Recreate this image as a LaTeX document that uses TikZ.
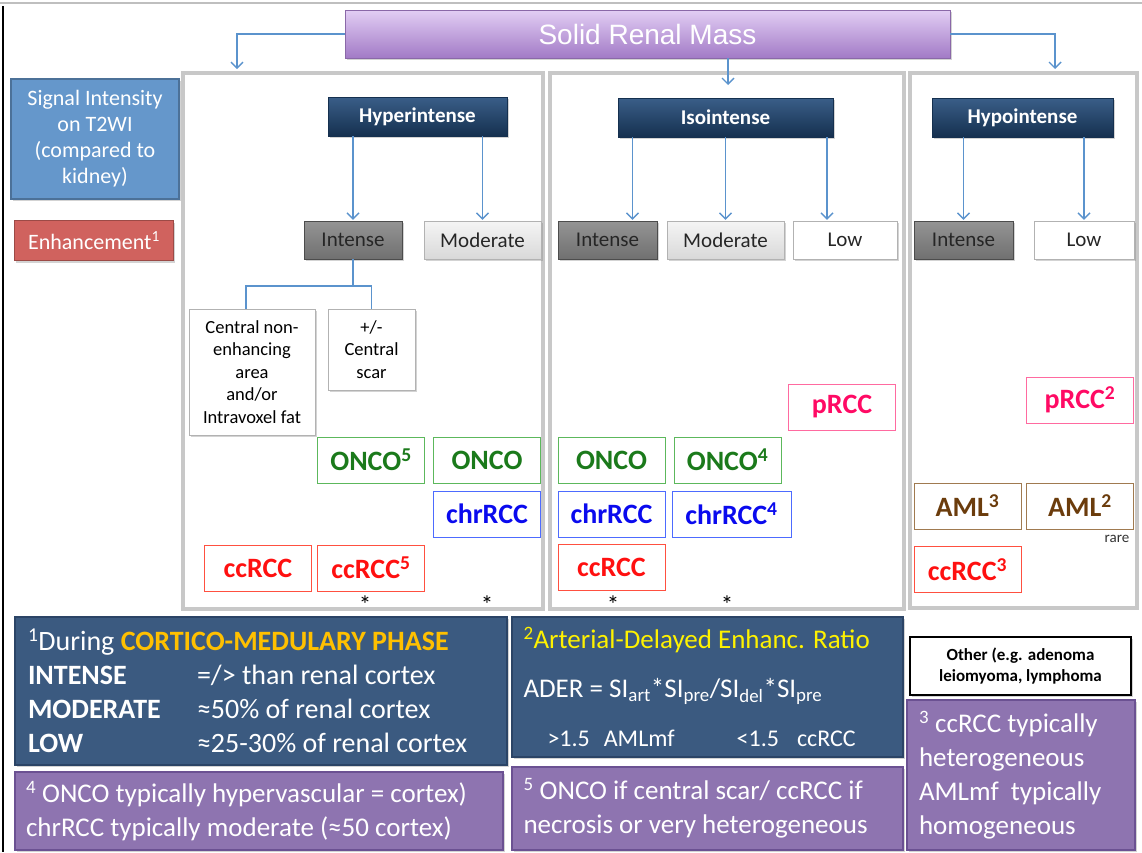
\documentclass[tikz,border=0pt]{standalone}
\usepackage{fontspec}
\setmainfont{Carlito}
\newfontfamily\titlefont{Liberation Sans}
\usepackage{tikz}
\usetikzlibrary{arrows.meta,shadows}

\definecolor{arrblue}{HTML}{5B93CD}
\definecolor{navy}{HTML}{15304F}
\definecolor{navytop}{HTML}{3A5E88}
\definecolor{panelgray}{HTML}{C8C8C8}
\definecolor{steel}{HTML}{3B5A80}
\definecolor{steelline}{HTML}{2B4466}
\definecolor{lilac}{HTML}{8E74B0}
\definecolor{lilacline}{HTML}{6B5192}
\definecolor{titletop}{HTML}{E2CEF4}
\definecolor{titlebot}{HTML}{A27AC6}
\definecolor{sigblue}{HTML}{6597CB}
\definecolor{enhred}{HTML}{D0625E}
\definecolor{oncoline}{HTML}{5CB85C}
\definecolor{oncotext}{HTML}{1B7A1B}
\definecolor{chrline}{HTML}{4D6BFF}
\definecolor{chrtext}{HTML}{0A0AEE}
\definecolor{ccline}{HTML}{FF5040}
\definecolor{cctext}{HTML}{FF1010}
\definecolor{pline}{HTML}{FF6AA0}
\definecolor{ptext}{HTML}{FF0A64}
\definecolor{amlline}{HTML}{A07A50}
\definecolor{amltext}{HTML}{6B3C0C}
\definecolor{orng}{HTML}{FFC000}

\newcommand{\fsz}[2]{\fontsize{#1}{#2}\selectfont}

\begin{document}
\begin{tikzpicture}[x=1pt,y=-1pt,>={Straight Barb[length=6pt,width=12pt]},
  sh/.style={drop shadow={opacity=.35,shadow xshift=1.5pt,shadow yshift=-2pt}},
  arr/.style={->,draw=arrblue,line width=1.4pt,shorten >=1pt},
  lnk/.style={draw=arrblue,line width=1.3pt},
  panel/.style={draw=panelgray,line width=4pt},
  hdr/.style={sh,draw=navy,top color=navytop,bottom color=navy,text=white,font=\fsz{21}{25}\bfseries,minimum height=39,inner sep=0pt},
  lvl/.style={sh,draw=gray!60,font=\fsz{21}{25},text=black!85,minimum height=38,inner sep=0pt},
  dk/.style={lvl,draw=black!70,top color=black!42,bottom color=black!56},
  lt/.style={lvl,top color=gray!8,bottom color=gray!30},
  wt/.style={lvl,fill=white},
  sub/.style={sh,draw=gray!60,fill=white,font=\fsz{18.5}{22.5},align=center,inner sep=0pt},
  res/.style={draw,line width=1pt,fill=white,minimum width=107,minimum height=46,inner sep=0pt,font=\fsz{28}{32}\bfseries},
  oncobox/.style={res,draw=oncoline,text=oncotext},
  chrbox/.style={res,draw=chrline,text=chrtext},
  ccbox/.style={res,draw=ccline,text=cctext},
  pbox/.style={res,draw=pline,text=ptext},
  amlbox/.style={res,draw=amlline,text=amltext},
  note/.style={sh,text=white,line width=1.5pt,inner sep=0pt,align=flush left,font=\fsz{27}{34}},
  ast/.style={font=\fsz{25}{25},inner sep=0pt}]
\useasboundingbox (0,0) rectangle (1142,852);

% frame
\draw[gray!50,line width=2pt] (0,3) -- (1142,3);
\draw[black,line width=2pt] (3,6) -- (3,852);

% panels
\draw[panel] (183,73) rectangle (543,609);
\draw[panel] (550,73) rectangle (904,609);
\draw[panel] (910,73) rectangle (1137,608);

% title
\node[sh,draw=titlebot!85!black,top color=titletop,bottom color=titlebot,text=white,minimum width=605,minimum height=48,inner sep=0pt,font=\titlefont\fsz{28}{32}] (title) at (647.5,34) {Solid Renal Mass};
\coordinate (lft) at (237,70);
\coordinate (rgt) at (1055,70);
\coordinate (mid) at (728,86);
\draw[arr] (title.west) -| (lft);
\draw[arr] (title.east) -| (rgt);
\draw[arr] (title.south -| mid) -- (mid);

% row labels
\node[sh,draw=sigblue!75!black,line width=1.5pt,fill=sigblue,text=white,minimum width=168,minimum height=120,inner sep=0pt,align=center,font=\fsz{22}{26}] (sig) at (95,139) {Signal Intensity\\on T2WI\\(compared to\\kidney)};
\node[sh,draw=enhred!75!black,line width=1.5pt,fill=enhred,text=white,minimum width=159,minimum height=40,inner sep=0pt,font=\fsz{22}{26}] (enh) at (94,240.5) {Enhancement\textsuperscript{1}};

% T2 signal
\node[hdr,minimum width=179] (hyper) at (417.5,116.5) {Hyperintense};
\node[hdr,minimum width=215] (iso) at (725.5,117.5) {Isointense};
\node[hdr,minimum width=181] (hypo) at (1022.5,117.5) {Hypointense};

% enhancement
\node[dk,minimum width=98] (int1) at (353,240) {Intense};
\node[lt,minimum width=117] (mod1) at (482.5,240) {Moderate};
\node[dk,minimum width=99] (int2) at (607.5,240) {Intense};
\node[lt,minimum width=117] (mod2) at (725.5,240) {Moderate};
\node[wt,minimum width=104] (low2) at (845,240) {Low};
\node[dk,minimum width=99] (int3) at (963.5,240) {Intense};
\node[wt,minimum width=100] (low3) at (1084,240) {Low};

\draw[arr] (int1.north |- hyper.south) -- (int1.north);
\draw[arr] (mod1.north |- hyper.south) -- (mod1.north);
\draw[arr] ([xshift=25]int2.north |- iso.south) -- ([xshift=25]int2.north);
\draw[arr] (mod2.north |- iso.south) -- (mod2.north);
\draw[arr] ([xshift=-18]low2.north |- iso.south) -- ([xshift=-18]low2.north);
\draw[arr] (int3.north |- hypo.south) -- (int3.north);
\draw[arr] (low3.north |- hypo.south) -- (low3.north);

% hyperintense / intense split
\node[sub,minimum width=126,minimum height=126] (cen) at (252,372) {Central non-\\enhancing\\area\\and/or\\Intravoxel fat};
\node[sub,minimum width=87,minimum height=81] (scar) at (371.5,349.5) {+/-\\Central\\scar};
\coordinate (split) at (353,286);
\draw[lnk] (int1.south) -- (split);
\draw[lnk] (split) -| ([xshift=-6]cen.north);
\draw[lnk] (split) -| (scar.north);

% hyperintense results
\node[oncobox] (onco5) at (371,460) {ONCO\textsuperscript{5}};
\node[oncobox] (onco1) at (487,460) {ONCO};
\node[chrbox] (chr1) at (487,514) {chrRCC};
\node[ccbox] (cc1) at (258,568) {ccRCC};
\node[ccbox] (cc5) at (371,568) {ccRCC\textsuperscript{5}};
\node[ast] (s1) at (365,605) {*};
\node[ast] (s2) at (487,605) {*};

% isointense results
\node[pbox] (prcc) at (842,407) {pRCC};
\node[oncobox] (onco2) at (611.5,460) {ONCO};
\node[oncobox] (onco4) at (727.5,460) {ONCO\textsuperscript{4}};
\node[chrbox] (chr2) at (611.5,514) {chrRCC};
\node[chrbox,minimum width=119] (chr4) at (731.5,514) {chrRCC\textsuperscript{4}};
\node[ccbox] (cc2) at (611.5,567.5) {ccRCC};
\node[ast] (s3) at (613,605) {*};
\node[ast] (s4) at (727,605) {*};

% hypointense results
\node[pbox] (prcc2) at (1080,400) {pRCC\textsuperscript{2}};
\node[amlbox] (aml3) at (967.5,506) {AML\textsuperscript{3}};
\node[amlbox] (aml2) at (1080,506) {AML\textsuperscript{2}};
\node[font=\fsz{15}{15},text=black!80,inner sep=0pt] (rare) at (1117,539) {rare};
\node[ccbox] (cc3) at (967.5,569.5) {ccRCC\textsuperscript{3}};

% footnotes
\node[note,draw=steelline,fill=steel,minimum width=492,minimum height=148,text width=466,font=\fsz{28}{34}] (n1) at (261,691)
  {\textsuperscript{1}During \textcolor{orng}{\bfseries CORTICO-MEDULARY PHASE}\\
   \makebox[169pt][l]{\bfseries INTENSE}=/> than renal cortex\\
   \makebox[169pt][l]{\bfseries MODERATE}≈50\% of renal cortex\\
   \makebox[169pt][l]{\bfseries LOW}≈25-30\% of renal cortex};
\node[note,draw=lilacline,fill=lilac,minimum width=488,minimum height=78,text width=466] (n4) at (259,811)
  {\textsuperscript{4} ONCO typically hypervascular = cortex)\\chrRCC typically moderate (≈50 cortex)};
\node[note,draw=steelline,fill=steel,minimum width=391,minimum height=140,text width=368,font=\fsz{27}{49}] (n2) at (707.5,687)
  {\textcolor{yellow}{\textsuperscript{2}Arterial-Delayed Enhanc. Ratio}\\
   ADER = SI\textsubscript{art}*SI\textsubscript{pre}/SI\textsubscript{del}*SI\textsubscript{pre}\\
   {\fsz{24}{49}\hspace{24pt}>1.5\hspace{14pt}AMLmf\hspace{62pt}<1.5\hspace{18pt}ccRCC}};
\node[note,draw=lilacline,fill=lilac,minimum width=391,minimum height=83,text width=368] (n5) at (707.5,808.5)
  {\textsuperscript{5} ONCO if central scar/ ccRCC if\\necrosis or very heterogeneous};
\node[sh,draw=black,line width=1.2pt,fill=white,minimum width=221,minimum height=58,inner sep=0pt,align=center,font=\fsz{17}{21}\bfseries] (oth) at (1020.5,666)
  {Other (e.g. adenoma\\leiomyoma, lymphoma};
\node[note,draw=lilacline,fill=lilac,minimum width=228,minimum height=150,text width=204] (n3) at (1021,775)
  {\textsuperscript{3} ccRCC typically\\heterogeneous\\AMLmf\ \ typically\\homogeneous};
\end{tikzpicture}
\end{document}
